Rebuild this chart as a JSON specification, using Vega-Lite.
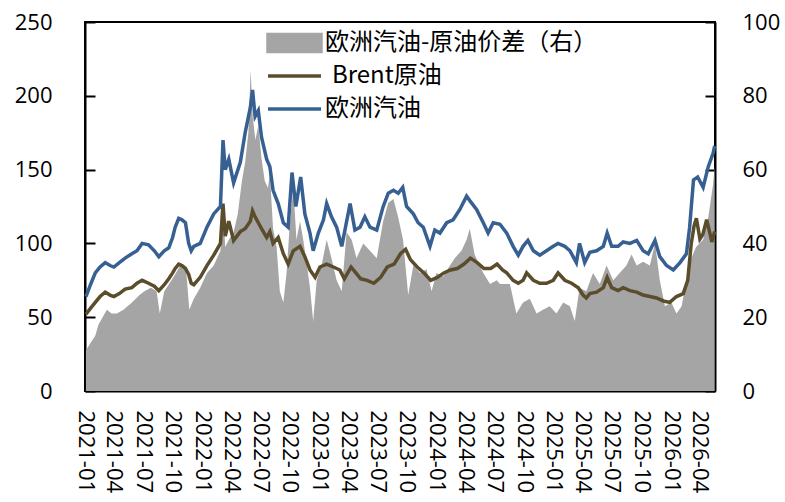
{
  "$schema": "https://vega.github.io/schema/vega-lite/v6.json",
  "width": 630,
  "height": 369,
  "autosize": {"type": "none"},
  "padding": {"left": 85, "top": 22, "right": 70, "bottom": 111},
  "background": "white",
  "config": {
    "font": "Open Sans",
    "view": {"stroke": "black", "strokeWidth": 2},
    "axis": {"domainColor": "black", "domainWidth": 2, "tickColor": "black", "tickWidth": 2, "labelColor": "black", "labelFontSize": 22, "labelFont": "Open Sans", "grid": false, "title": null}
  },
  "datasets": {
    "spread": [
      {"d":"2021-01-04","v":11},{"d":"2021-01-18","v":13},{"d":"2021-02-02","v":15},{"d":"2021-02-12","v":18},{"d":"2021-02-25","v":20},{"d":"2021-03-10","v":22},{"d":"2021-03-25","v":21},{"d":"2021-04-10","v":21},{"d":"2021-05-01","v":22},{"d":"2021-05-27","v":24},{"d":"2021-06-20","v":26},{"d":"2021-07-05","v":27},{"d":"2021-07-25","v":28},{"d":"2021-08-12","v":27},{"d":"2021-08-22","v":21},{"d":"2021-09-05","v":27},{"d":"2021-09-20","v":29},{"d":"2021-10-05","v":31},{"d":"2021-10-25","v":34},{"d":"2021-11-12","v":33},{"d":"2021-11-22","v":22},{"d":"2021-12-06","v":25},{"d":"2021-12-26","v":28},
      {"d":"2022-01-16","v":32},{"d":"2022-02-06","v":34},{"d":"2022-02-27","v":38},{"d":"2022-03-07","v":50},{"d":"2022-03-14","v":39},{"d":"2022-03-25","v":41},{"d":"2022-04-09","v":43},{"d":"2022-04-22","v":48},{"d":"2022-05-05","v":57},{"d":"2022-05-15","v":62},{"d":"2022-05-25","v":70},{"d":"2022-06-01","v":87},{"d":"2022-06-08","v":74},{"d":"2022-06-16","v":68},{"d":"2022-06-25","v":72},{"d":"2022-07-05","v":63},{"d":"2022-07-15","v":57},{"d":"2022-07-25","v":55},{"d":"2022-07-31","v":59},{"d":"2022-08-10","v":44},{"d":"2022-08-21","v":39},{"d":"2022-08-31","v":27},{"d":"2022-09-11","v":24},{"d":"2022-09-21","v":32},{"d":"2022-10-01","v":45},{"d":"2022-10-12","v":55},{"d":"2022-10-22","v":41},{"d":"2022-11-02","v":46},{"d":"2022-11-12","v":41},{"d":"2022-11-22","v":35},{"d":"2022-12-03","v":28},{"d":"2022-12-13","v":19},{"d":"2022-12-24","v":30},
      {"d":"2023-01-08","v":34},{"d":"2023-01-24","v":41},{"d":"2023-02-08","v":36},{"d":"2023-02-24","v":30},{"d":"2023-03-12","v":27},{"d":"2023-03-27","v":43},{"d":"2023-04-12","v":41},{"d":"2023-04-27","v":36},{"d":"2023-05-18","v":40},{"d":"2023-06-08","v":38},{"d":"2023-06-29","v":36},{"d":"2023-07-19","v":46},{"d":"2023-08-04","v":51},{"d":"2023-08-20","v":52},{"d":"2023-09-04","v":47},{"d":"2023-09-19","v":41},{"d":"2023-10-05","v":26},{"d":"2023-10-21","v":34},{"d":"2023-11-11","v":32},{"d":"2023-12-01","v":33},{"d":"2023-12-17","v":27},
      {"d":"2024-01-01","v":32},{"d":"2024-01-22","v":31},{"d":"2024-02-12","v":34},{"d":"2024-02-27","v":36},{"d":"2024-03-19","v":38},{"d":"2024-04-04","v":41},{"d":"2024-04-14","v":44},{"d":"2024-04-29","v":37},{"d":"2024-05-26","v":32},{"d":"2024-06-16","v":29},{"d":"2024-07-07","v":30},{"d":"2024-07-17","v":29},{"d":"2024-08-17","v":29},{"d":"2024-08-27","v":25},{"d":"2024-09-06","v":21},{"d":"2024-09-27","v":24},{"d":"2024-10-18","v":25},{"d":"2024-11-08","v":21},{"d":"2024-11-28","v":22},{"d":"2024-12-19","v":23},
      {"d":"2025-01-09","v":21},{"d":"2025-01-30","v":24},{"d":"2025-02-20","v":23},{"d":"2025-03-07","v":19},{"d":"2025-03-22","v":28},{"d":"2025-04-12","v":27},{"d":"2025-05-03","v":32},{"d":"2025-05-24","v":29},{"d":"2025-06-14","v":34},{"d":"2025-07-05","v":30},{"d":"2025-07-25","v":32},{"d":"2025-08-15","v":34},{"d":"2025-08-31","v":37},{"d":"2025-09-16","v":34},{"d":"2025-10-06","v":35},{"d":"2025-10-27","v":34},{"d":"2025-11-12","v":40},{"d":"2025-11-27","v":30},{"d":"2025-12-13","v":23},
      {"d":"2026-01-02","v":24},{"d":"2026-01-18","v":21},{"d":"2026-02-03","v":23},{"d":"2026-02-18","v":30},{"d":"2026-03-05","v":36},{"d":"2026-03-20","v":39},{"d":"2026-04-11","v":41},{"d":"2026-04-27","v":47},{"d":"2026-05-12","v":56},{"d":"2026-05-17","v":61}
    ],
    "brent": [
      {"d":"2021-01-04","v":52},{"d":"2021-01-18","v":56},{"d":"2021-02-02","v":60},{"d":"2021-02-17","v":64},{"d":"2021-03-05","v":67},{"d":"2021-03-20","v":65},{"d":"2021-04-01","v":64},{"d":"2021-04-18","v":66},{"d":"2021-05-06","v":69},{"d":"2021-05-27","v":70},{"d":"2021-06-12","v":73},{"d":"2021-06-28","v":75},{"d":"2021-07-18","v":73},{"d":"2021-08-05","v":71},{"d":"2021-08-19","v":68},{"d":"2021-09-05","v":72},{"d":"2021-09-19","v":76},{"d":"2021-10-01","v":80},{"d":"2021-10-09","v":83},{"d":"2021-10-20","v":86},{"d":"2021-10-30","v":85},{"d":"2021-11-10","v":83},{"d":"2021-11-20","v":79},{"d":"2021-11-28","v":73},{"d":"2021-12-06","v":72},{"d":"2021-12-26","v":77},
      {"d":"2022-01-16","v":85},{"d":"2022-02-06","v":92},{"d":"2022-02-27","v":100},{"d":"2022-03-07","v":127},{"d":"2022-03-14","v":105},{"d":"2022-03-25","v":115},{"d":"2022-04-09","v":102},{"d":"2022-04-30","v":108},{"d":"2022-05-15","v":110},{"d":"2022-05-31","v":115},{"d":"2022-06-07","v":122},{"d":"2022-06-15","v":118},{"d":"2022-06-25","v":114},{"d":"2022-07-05","v":110},{"d":"2022-07-21","v":104},{"d":"2022-07-31","v":108},{"d":"2022-08-10","v":100},{"d":"2022-08-26","v":104},{"d":"2022-09-11","v":93},{"d":"2022-09-26","v":86},{"d":"2022-10-12","v":95},{"d":"2022-11-02","v":98},{"d":"2022-11-17","v":91},{"d":"2022-12-03","v":82},{"d":"2022-12-19","v":77},
      {"d":"2023-01-03","v":84},{"d":"2023-01-24","v":86},{"d":"2023-02-14","v":84},{"d":"2023-03-06","v":82},{"d":"2023-03-20","v":76},{"d":"2023-04-10","v":84},{"d":"2023-04-25","v":80},{"d":"2023-05-10","v":76},{"d":"2023-05-30","v":75},{"d":"2023-06-20","v":73},{"d":"2023-07-11","v":77},{"d":"2023-08-01","v":84},{"d":"2023-08-22","v":86},{"d":"2023-09-11","v":93},{"d":"2023-09-27","v":96},{"d":"2023-10-12","v":89},{"d":"2023-11-02","v":84},{"d":"2023-11-23","v":80},{"d":"2023-12-14","v":75},
      {"d":"2024-01-04","v":77},{"d":"2024-01-24","v":80},{"d":"2024-02-14","v":82},{"d":"2024-03-06","v":83},{"d":"2024-03-27","v":86},{"d":"2024-04-16","v":90},{"d":"2024-05-07","v":87},{"d":"2024-05-28","v":83},{"d":"2024-06-18","v":83},{"d":"2024-07-08","v":86},{"d":"2024-07-25","v":82},{"d":"2024-08-07","v":80},{"d":"2024-08-27","v":75},{"d":"2024-09-12","v":73},{"d":"2024-09-27","v":75},{"d":"2024-10-08","v":80},{"d":"2024-10-29","v":75},{"d":"2024-11-18","v":73},{"d":"2024-12-09","v":73},{"d":"2024-12-30","v":75},
      {"d":"2025-01-14","v":80},{"d":"2025-02-04","v":75},{"d":"2025-02-25","v":73},{"d":"2025-03-18","v":70},{"d":"2025-04-02","v":65},{"d":"2025-04-12","v":63},{"d":"2025-04-23","v":66},{"d":"2025-05-14","v":67},{"d":"2025-06-04","v":70},{"d":"2025-06-16","v":77},{"d":"2025-06-30","v":70},{"d":"2025-07-20","v":68},{"d":"2025-08-05","v":70},{"d":"2025-08-26","v":68},{"d":"2025-09-16","v":67},{"d":"2025-10-06","v":65},{"d":"2025-10-27","v":64},{"d":"2025-11-17","v":63},{"d":"2025-12-08","v":61},{"d":"2025-12-28","v":60},
      {"d":"2026-01-18","v":64},{"d":"2026-02-08","v":66},{"d":"2026-02-22","v":75},{"d":"2026-03-05","v":100},{"d":"2026-03-14","v":112},{"d":"2026-03-21","v":117},{"d":"2026-04-01","v":103},{"d":"2026-04-10","v":106},{"d":"2026-04-22","v":116},{"d":"2026-05-01","v":108},{"d":"2026-05-08","v":101},{"d":"2026-05-17","v":108}
    ],
    "gas": [
      {"d":"2021-01-04","v":64},{"d":"2021-01-18","v":72},{"d":"2021-02-02","v":80},{"d":"2021-02-17","v":84},{"d":"2021-03-05","v":87},{"d":"2021-03-20","v":85},{"d":"2021-04-01","v":84},{"d":"2021-04-18","v":87},{"d":"2021-05-06","v":90},{"d":"2021-05-27","v":93},{"d":"2021-06-12","v":95},{"d":"2021-06-28","v":100},{"d":"2021-07-18","v":99},{"d":"2021-08-05","v":95},{"d":"2021-08-19","v":91},{"d":"2021-09-05","v":95},{"d":"2021-09-19","v":97},{"d":"2021-10-01","v":104},{"d":"2021-10-09","v":111},{"d":"2021-10-20","v":117},{"d":"2021-10-30","v":116},{"d":"2021-11-10","v":114},{"d":"2021-11-20","v":100},{"d":"2021-11-28","v":95},{"d":"2021-12-06","v":98},{"d":"2021-12-26","v":100},
      {"d":"2022-01-16","v":111},{"d":"2022-02-06","v":120},{"d":"2022-02-27","v":125},{"d":"2022-03-07","v":170},{"d":"2022-03-14","v":150},{"d":"2022-03-25","v":157},{"d":"2022-04-09","v":141},{"d":"2022-04-30","v":155},{"d":"2022-05-15","v":175},{"d":"2022-05-31","v":192},{"d":"2022-06-07","v":204},{"d":"2022-06-15","v":186},{"d":"2022-06-25","v":190},{"d":"2022-07-05","v":172},{"d":"2022-07-21","v":157},{"d":"2022-07-31","v":152},{"d":"2022-08-10","v":136},{"d":"2022-08-26","v":127},{"d":"2022-09-11","v":114},{"d":"2022-09-26","v":111},{"d":"2022-10-08","v":148},{"d":"2022-10-20","v":125},{"d":"2022-11-04","v":145},{"d":"2022-11-17","v":120},{"d":"2022-12-03","v":107},{"d":"2022-12-13","v":95},{"d":"2022-12-29","v":107},
      {"d":"2023-01-14","v":116},{"d":"2023-01-24","v":127},{"d":"2023-02-08","v":118},{"d":"2023-02-24","v":111},{"d":"2023-03-12","v":98},{"d":"2023-04-07","v":127},{"d":"2023-04-22","v":109},{"d":"2023-05-08","v":111},{"d":"2023-05-23","v":118},{"d":"2023-06-08","v":111},{"d":"2023-06-29","v":109},{"d":"2023-07-19","v":125},{"d":"2023-08-04","v":134},{"d":"2023-08-20","v":136},{"d":"2023-09-04","v":134},{"d":"2023-09-18","v":138},{"d":"2023-09-30","v":125},{"d":"2023-10-21","v":120},{"d":"2023-11-05","v":114},{"d":"2023-11-21","v":111},{"d":"2023-12-12","v":98},{"d":"2023-12-27","v":109},
      {"d":"2024-01-12","v":107},{"d":"2024-02-02","v":114},{"d":"2024-02-22","v":116},{"d":"2024-03-14","v":123},{"d":"2024-04-04","v":132},{"d":"2024-04-14","v":129},{"d":"2024-05-05","v":123},{"d":"2024-05-26","v":114},{"d":"2024-06-10","v":107},{"d":"2024-06-26","v":114},{"d":"2024-07-17","v":113},{"d":"2024-08-07","v":107},{"d":"2024-08-27","v":98},{"d":"2024-09-12","v":92},{"d":"2024-09-27","v":98},{"d":"2024-10-12","v":102},{"d":"2024-10-29","v":95},{"d":"2024-11-18","v":92},{"d":"2024-12-09","v":95},{"d":"2024-12-30","v":98},
      {"d":"2025-01-14","v":100},{"d":"2025-02-04","v":98},{"d":"2025-02-20","v":95},{"d":"2025-03-12","v":87},{"d":"2025-03-22","v":100},{"d":"2025-04-07","v":87},{"d":"2025-04-23","v":94},{"d":"2025-05-14","v":95},{"d":"2025-06-04","v":98},{"d":"2025-06-16","v":107},{"d":"2025-06-30","v":98},{"d":"2025-07-20","v":98},{"d":"2025-08-05","v":101},{"d":"2025-08-26","v":100},{"d":"2025-09-16","v":102},{"d":"2025-10-06","v":95},{"d":"2025-10-22","v":93},{"d":"2025-11-12","v":102},{"d":"2025-11-27","v":91},{"d":"2025-12-18","v":85},
      {"d":"2026-01-08","v":82},{"d":"2026-01-29","v":87},{"d":"2026-02-18","v":93},{"d":"2026-02-28","v":111},{"d":"2026-03-12","v":143},{"d":"2026-03-25","v":145},{"d":"2026-04-11","v":138},{"d":"2026-04-27","v":152},{"d":"2026-05-12","v":161},{"d":"2026-05-17","v":166}
    ]
  },
  "layer": [
    {
      "data": {"name": "spread", "format": {"parse": {"d": "date:'%Y-%m-%d'"}}},
      "mark": {"type": "area", "color": "#a5a5a5", "interpolate": "linear"},
      "encoding": {
        "x": {"field": "d", "type": "temporal",
          "scale": {"domain": [{"year": 2021, "month": 1, "date": 1}, {"year": 2026, "month": 5, "date": 18}]},
          "axis": {"format": "%Y-%m", "tickCount": {"interval": "month", "step": 3}, "labelAngle": 90, "tickSize": -7, "labelPadding": 26, "labelOverlap": false, "labelFlush": false, "labelBound": false}},
        "y": {"field": "v", "type": "quantitative", "scale": {"domain": [0, 100], "nice": false},
          "axis": {"orient": "right", "values": [0, 20, 40, 60, 80, 100], "tickSize": -10, "labelPadding": 37}},
        "color": {"datum": "欧洲汽油-原油价差（右）", "type": "nominal",
          "scale": {"domain": ["欧洲汽油-原油价差（右）", "\u00a0Brent原油", "欧洲汽油"], "range": ["#a5a5a5", "#5b4d2c", "#376092"]},
          "legend": {
            "orient": "none", "legendX": 181, "legendY": 10, "direction": "vertical", "title": null,
            "labelFont": "Noto Sans CJK SC", "labelFontSize": 24, "labelColor": "black", "labelLimit": 500,
            "symbolSize": 100, "clipHeight": 22, "rowPadding": 9, "labelOffset": 2, "padding": 0,
            "encode": {
              "symbols": {"update": {
                "shape": {"signal": "datum.value === '欧洲汽油-原油价差（右）' ? 'M-1,-0.32H1V0.32H-1Z' : 'stroke'"},
                "size": {"value": 2809},
                "fill": {"signal": "datum.value === '欧洲汽油-原油价差（右）' ? '#a5a5a5' : 'transparent'"},
                "stroke": {"signal": "datum.value === '欧洲汽油-原油价差（右）' ? 'transparent' : (datum.value === '欧洲汽油' ? '#376092' : '#5b4d2c')"},
                "strokeWidth": {"value": 3.5},
                "opacity": {"value": 1}
              }},
              "labels": {"update": {
                "dx": {"signal": "(datum.value !== '欧洲汽油' && datum.value !== '欧洲汽油-原油价差（右）') ? 7 : 0"}
              }}
            }
          }}
      }
    },
    {
      "layer": [
        {
          "data": {"name": "brent", "format": {"parse": {"d": "date:'%Y-%m-%d'"}}},
          "mark": {"type": "line", "strokeWidth": 3.5},
          "encoding": {
            "x": {"field": "d", "type": "temporal"},
            "y": {"field": "v", "type": "quantitative", "scale": {"domain": [0, 250], "nice": false},
              "axis": {"orient": "left", "values": [0, 50, 100, 150, 200, 250], "tickSize": -10, "labelPadding": 43}},
            "color": {"datum": "\u00a0Brent原油", "type": "nominal"}
          }
        },
        {
          "data": {"name": "gas", "format": {"parse": {"d": "date:'%Y-%m-%d'"}}},
          "mark": {"type": "line", "strokeWidth": 3.5},
          "encoding": {
            "x": {"field": "d", "type": "temporal"},
            "y": {"field": "v", "type": "quantitative"},
            "color": {"datum": "欧洲汽油", "type": "nominal"}
          }
        }
      ]
    }
  ],
  "resolve": {"scale": {"y": "independent"}, "axis": {"y": "independent"}}
}
